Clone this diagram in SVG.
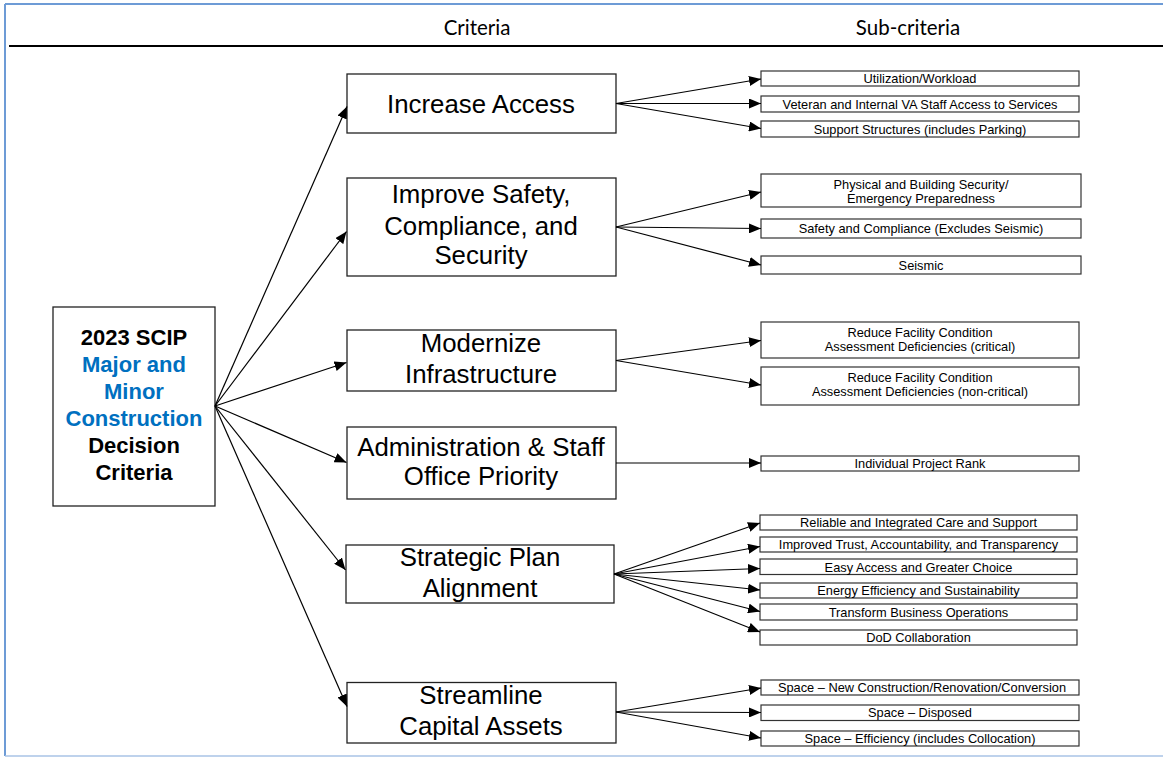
<svg xmlns="http://www.w3.org/2000/svg" width="1163" height="757" viewBox="0 0 1163 757">
<style>
.box{fill:#fff;stroke:#222;stroke-width:1.3}
.sub{fill:#fff;stroke:#333;stroke-width:1.2}
.crit{font-family:"Liberation Sans",Arial,sans-serif;font-size:25.8px;fill:#000;text-anchor:middle}
.st{font-family:"Liberation Sans",Arial,sans-serif;font-size:12.8px;fill:#000;text-anchor:middle}
.hdr{font-family:Lato,"Liberation Sans",sans-serif;font-size:20.5px;fill:#000;text-anchor:middle}
.main{font-family:"Liberation Sans",Arial,sans-serif;font-size:22px;font-weight:bold;text-anchor:middle}
.conn line{stroke:#000;stroke-width:1.2;marker-end:url(#ah)}
</style>
<defs>
<marker id="ah" markerUnits="userSpaceOnUse" viewBox="0 0 12 10" refX="12" refY="5" markerWidth="12" markerHeight="10" orient="auto">
<path d="M0,0 L12,5 L0,10 z" fill="#000"/>
</marker>
</defs>
<rect width="1163" height="757" fill="#fff"/>
<g id="frame">
<line x1="5" y1="4" x2="1163" y2="4" stroke="#6d9bd6" stroke-width="2"/>
<line x1="5" y1="4" x2="5" y2="756" stroke="#6d9bd6" stroke-width="2"/>
<line x1="5" y1="756" x2="1163" y2="756" stroke="#a8c3e6" stroke-width="1.5"/>
<line x1="9" y1="46" x2="1163" y2="46" stroke="#000" stroke-width="2"/>
<text class="hdr" x="477" y="35">Criteria</text>
<text class="hdr" x="908" y="35">Sub-criteria</text>
</g>
<g id="root">
<rect class="box" x="53" y="307" width="162" height="199"/>
<text class="main" x="134" y="345" fill="#000">2023 SCIP</text>
<text class="main" x="134" y="372" fill="#0070c0">Major and</text>
<text class="main" x="134" y="399" fill="#0070c0">Minor</text>
<text class="main" x="134" y="426" fill="#0070c0">Construction</text>
<text class="main" x="134" y="453" fill="#000">Decision</text>
<text class="main" x="134" y="480" fill="#000">Criteria</text>
</g>
<g id="c1"><rect class="box" x="347" y="74" width="269" height="59"/><text class="crit" x="481" y="112.5">Increase Access</text></g>
<g id="c2"><rect class="box" x="347" y="178" width="269" height="98"/><text class="crit" x="481" y="203">Improve Safety,</text><text class="crit" x="481" y="234.5">Compliance, and</text><text class="crit" x="481" y="264">Security</text></g>
<g id="c3"><rect class="box" x="347" y="330" width="269" height="61"/><text class="crit" x="481" y="352">Modernize</text><text class="crit" x="481" y="383">Infrastructure</text></g>
<g id="c4"><rect class="box" x="347" y="427" width="269" height="72"/><text class="crit" x="481" y="456">Administration &amp; Staff</text><text class="crit" x="481" y="485">Office Priority</text></g>
<g id="c5"><rect class="box" x="346" y="545" width="268" height="58"/><text class="crit" x="480" y="565.5">Strategic Plan</text><text class="crit" x="480" y="596.5">Alignment</text></g>
<g id="c6"><rect class="box" x="347" y="682.5" width="269" height="60.5"/><text class="crit" x="481" y="704">Streamline</text><text class="crit" x="481" y="735">Capital Assets</text></g>
<g id="s1"><rect class="sub" x="761" y="71" width="318" height="15"/><text class="st" x="920" y="83">Utilization/Workload</text></g>
<g id="s2"><rect class="sub" x="761" y="96" width="318" height="16"/><text class="st" x="920" y="108.5">Veteran and Internal VA Staff Access to Services</text></g>
<g id="s3"><rect class="sub" x="761" y="121" width="318" height="16"/><text class="st" x="920" y="133.5">Support Structures (includes Parking)</text></g>
<g id="s4"><rect class="sub" x="761" y="174" width="320" height="33"/><text class="st" x="921" y="188.5">Physical and Building Security/</text><text class="st" x="921" y="202.5">Emergency Preparedness</text></g>
<g id="s5"><rect class="sub" x="761" y="219" width="320" height="19"/><text class="st" x="921" y="233">Safety and Compliance (Excludes Seismic)</text></g>
<g id="s6"><rect class="sub" x="761" y="256" width="320" height="18"/><text class="st" x="921" y="269.5">Seismic</text></g>
<g id="s7"><rect class="sub" x="761" y="322" width="318" height="36"/><text class="st" x="920" y="336.5">Reduce Facility Condition</text><text class="st" x="920" y="350.5">Assessment Deficiencies (critical)</text></g>
<g id="s8"><rect class="sub" x="761" y="367" width="318" height="38"/><text class="st" x="920" y="381.5">Reduce Facility Condition</text><text class="st" x="920" y="396">Assessment Deficiencies (non-critical)</text></g>
<g id="s9"><rect class="sub" x="761" y="456" width="318" height="15"/><text class="st" x="920" y="468">Individual Project Rank</text></g>
<g id="s10"><rect class="sub" x="760" y="515" width="317" height="15"/><text class="st" x="918.5" y="527">Reliable and Integrated Care and Support</text></g>
<g id="s11"><rect class="sub" x="760" y="537" width="317" height="15"/><text class="st" x="918.5" y="549">Improved Trust, Accountability, and Transparency</text></g>
<g id="s12"><rect class="sub" x="760" y="559" width="317" height="15.5"/><text class="st" x="918.5" y="571.5">Easy Access and Greater Choice</text></g>
<g id="s13"><rect class="sub" x="760" y="583" width="317" height="15"/><text class="st" x="918.5" y="595">Energy Efficiency and Sustainability</text></g>
<g id="s14"><rect class="sub" x="760" y="604" width="317" height="16"/><text class="st" x="918.5" y="616.5">Transform Business Operations</text></g>
<g id="s15"><rect class="sub" x="760" y="630" width="317" height="15"/><text class="st" x="918.5" y="642">DoD Collaboration</text></g>
<g id="s16"><rect class="sub" x="761" y="680" width="318" height="15"/><text class="st" x="922" y="692">Space – New Construction/Renovation/Conversion</text></g>
<g id="s17"><rect class="sub" x="761" y="705" width="318" height="15.5"/><text class="st" x="920" y="717">Space – Disposed</text></g>
<g id="s18"><rect class="sub" x="761" y="731" width="318" height="15"/><text class="st" x="920" y="743">Space – Efficiency (includes Collocation)</text></g>
<g id="connectors" class="conn">
<line x1="215" y1="406" x2="347" y2="106.5"/>
<line x1="215" y1="406" x2="346.5" y2="231.5"/>
<line x1="215" y1="406" x2="346.5" y2="362.5"/>
<line x1="215" y1="406" x2="346.5" y2="462.5"/>
<line x1="215" y1="406" x2="345.5" y2="570"/>
<line x1="215" y1="406" x2="347" y2="706.5"/>
<line x1="616" y1="103.5" x2="761" y2="79"/>
<line x1="616" y1="103.5" x2="761" y2="103.5"/>
<line x1="616" y1="103.5" x2="761" y2="128.5"/>
<line x1="616" y1="227" x2="761" y2="192"/>
<line x1="616" y1="227" x2="761" y2="228.5"/>
<line x1="616" y1="227" x2="761" y2="265"/>
<line x1="616" y1="360.5" x2="761" y2="340.5"/>
<line x1="616" y1="360.5" x2="761" y2="385"/>
<line x1="616" y1="463" x2="761" y2="463"/>
<line x1="614" y1="574" x2="760" y2="523"/>
<line x1="614" y1="574" x2="760" y2="546.5"/>
<line x1="614" y1="574" x2="760" y2="568.5"/>
<line x1="614" y1="574" x2="760" y2="590"/>
<line x1="614" y1="574" x2="760" y2="611.5"/>
<line x1="614" y1="574" x2="760" y2="632"/>
<line x1="616" y1="712" x2="761" y2="688"/>
<line x1="616" y1="712" x2="761" y2="712.5"/>
<line x1="616" y1="712" x2="761" y2="738"/>
</g>
</svg>
